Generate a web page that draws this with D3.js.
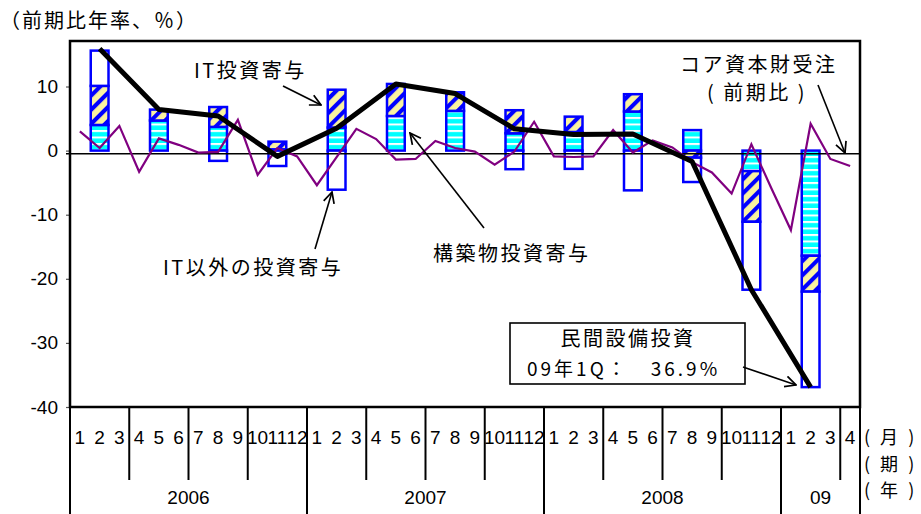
<!DOCTYPE html>
<html><head><meta charset="utf-8">
<script src="https://cdn.jsdelivr.net/npm/d3@7"></script>
<style>body{margin:0;background:#fff} svg{display:block}</style>
</head><body><svg id="c" width="921" height="514"></svg>
<script>
// ---- data ----
const quarters = ["2006Q1","2006Q2","2006Q3","2006Q4","2007Q1","2007Q2","2007Q3","2007Q4","2008Q1","2008Q2","2008Q3","2008Q4","2009Q1"];
const structures = [4.0, 4.7, 3.7, 0.2, 3.6, 5.4, 6.2, 2.7, 2.9, 6.1, 3.2, -3.2, -16.4];   // 構築物投資寄与
const itInvest   = [6.1, 1.7, 3.1, 1.2, 5.9, 5.0, 2.9, 3.6, 2.4, 2.7, -1.1, -7.9, -5.6];   // IT投資寄与
const nonIT      = [5.5, 0.0, -1.6, -2.4, -6.1, 0.0, 0.0, -2.9, -2.85, -6.2, -3.8, -10.6, -14.9]; // IT以外の投資寄与
const capex      = [15.9, 6.4, 5.4, -0.9, 3.5, 10.4, 8.9, 3.4, 2.5, 2.6, -1.7, -21.7, -36.9]; // 民間設備投資
const orders = [3.0, 0.4, 3.85, -3.3, 1.9, 0.9, -0.3, -0.2, 4.8, -3.8,
                0.4, -0.9, -5.4, -1.0, 3.4, 1.8, -1.4, -1.3, 1.5, 0.4,
                -0.15, -2.2, -0.15, 4.5, -0.9, -1.0, -0.9, 3.2, -0.3, 1.6,
                0.5, -1.8, -3.4, -6.7, 1.0, -5.8, -12.4, 4.2, -1.3, -2.4]; // コア資本財受注（前期比）
const monthLabels = ["1","2","3","4","5","6","7","8","9","10","11","12",
                     "1","2","3","4","5","6","7","8","9","10","11","12",
                     "1","2","3","4","5","6","7","8","9","10","11","12",
                     "1","2","3","4"];
const years = ["2006","2007","2008","09"];
const yearMonths = [12, 12, 12, 4];
const yTicks = [10, 0, -10, -20, -30, -40];
const refLine = [-0.5];

// ---- layout ----
const L = 70, R = 860, T = 41, B = 407;
const JP = "'Noto Sans CJK JP', sans-serif";
const NUM = "'Liberation Sans', Arial, sans-serif";
const svg = d3.select("#c");
const x = d3.scaleBand().domain(d3.range(orders.length)).range([L, R]);
const bw = x.bandwidth();
const y = d3.scaleLinear().domain([-40, 17.1]).range([B, T]);
const qx = i => x(i * 3) + 1.5 * bw;

// ---- patterns ----
const defs = svg.append("defs");
const pc = defs.append("pattern").attr("id", "cyan").attr("patternUnits", "userSpaceOnUse")
  .attr("width", 6.5).attr("height", 6.5);
pc.append("rect").attr("width", 6.5).attr("height", 6.5).attr("fill", "#00FFFF");
pc.append("rect").attr("width", 6.5).attr("height", 2).attr("fill", "#FFFFFF");
const ph = defs.append("pattern").attr("id", "hatch").attr("patternUnits", "userSpaceOnUse")
  .attr("width", 10).attr("height", 10).attr("patternTransform", "rotate(45)");
ph.append("rect").attr("width", 10).attr("height", 10).attr("fill", "#FAF3A0");
ph.append("line").attr("x1", 2).attr("y1", -1).attr("x2", 2).attr("y2", 11)
  .attr("stroke", "#0000FF").attr("stroke-width", 4.2);
const mk = defs.append("marker").attr("id", "arr").attr("viewBox", "0 0 12 12")
  .attr("refX", 11).attr("refY", 6).attr("markerWidth", 13).attr("markerHeight", 13)
  .attr("markerUnits", "userSpaceOnUse").attr("orient", "auto");
mk.append("path").attr("d", "M1,1 L11,6 L1,11").attr("fill", "none").attr("stroke", "#000").attr("stroke-width", 1.6);

// ---- stacked bars ----
const rows = quarters.map((q, i) => ({q, i, s: structures[i], it: itInvest[i], n: nonIT[i]}));
const keys = ["s", "it", "n"];
const fills = {s: "url(#cyan)", it: "url(#hatch)", n: "#FFFFFF"};
const stack = d3.stack().keys(keys).offset(d3.stackOffsetDiverging)(rows);
stack.forEach(layer => {
  svg.append("g").selectAll("rect").data(layer.filter(d => d[1] !== d[0])).join("rect")
    .attr("x", d => qx(d.data.i) - (bw - 2) / 2)
    .attr("width", bw - 2)
    .attr("y", d => y(Math.max(d[0], d[1])))
    .attr("height", d => Math.abs(y(d[0]) - y(d[1])))
    .attr("fill", fills[layer.key])
    .attr("stroke", "#0000FF").attr("stroke-width", 2.5);
});

// ---- reference line ----
svg.selectAll(".ref").data(refLine).join("line")
  .attr("x1", L - 4).attr("x2", R).attr("y1", d => y(d)).attr("y2", d => y(d))
  .attr("stroke", "#000").attr("stroke-width", 1.4);

// ---- lines ----
svg.append("path").datum(orders)
  .attr("d", d3.line().x((d, i) => x(i) + bw / 2).y(d => y(d)))
  .attr("fill", "none").attr("stroke", "#800080").attr("stroke-width", 2.2).attr("stroke-linejoin", "miter");
svg.append("path").datum(capex)
  .attr("d", d3.line().x((d, i) => qx(i)).y(d => y(d)))
  .attr("fill", "none").attr("stroke", "#000").attr("stroke-width", 5).attr("stroke-linejoin", "round");

// ---- y axis ----
const yAxis = svg.append("g").attr("transform", `translate(${L},0)`)
  .call(d3.axisLeft(y).tickValues(yTicks).tickSize(4).tickFormat(d => String(d)));
yAxis.select(".domain").remove();
yAxis.selectAll(".tick line").attr("stroke", "#555").attr("stroke-width", 1.2);
yAxis.selectAll(".tick text").attr("x", -12).attr("font-family", NUM).attr("font-size", 19).attr("fill", "#000");

// ---- frame ----
svg.append("rect").attr("x", L).attr("y", T).attr("width", R - L).attr("height", B - T)
  .attr("fill", "none").attr("stroke", "#000").attr("stroke-width", 2.5);

// ---- x axis rows ----
const gx = svg.append("g");
gx.selectAll(".ml").data(monthLabels).join("text")
  .attr("x", (d, i) => x(i) + bw / 2).attr("y", 444).attr("text-anchor", "middle")
  .attr("font-family", NUM).attr("font-size", 19).text(d => d);
// quarter separators
const qSep = d3.range(1, orders.length / 3 + 1).map(k => k * 3).filter(m => m < orders.length && m % 12 !== 0);
gx.selectAll(".qs").data(qSep).join("line")
  .attr("x1", m => x(m)).attr("x2", m => x(m)).attr("y1", B).attr("y2", 480)
  .attr("stroke", "#000").attr("stroke-width", 2);
// year separators
const yStarts = yearMonths.map((n, i) => d3.sum(yearMonths.slice(0, i)));
const ySep = yStarts.concat([orders.length]);
gx.selectAll(".ys").data(ySep).join("line")
  .attr("x1", m => m >= orders.length ? R : x(m)).attr("x2", m => m >= orders.length ? R : x(m))
  .attr("y1", B).attr("y2", 514)
  .attr("stroke", "#000").attr("stroke-width", 2);
gx.selectAll(".yl").data(years).join("text")
  .attr("x", (d, i) => {
    const a = x(yStarts[i]);
    const e = yStarts[i] + yearMonths[i] >= orders.length ? R : x(yStarts[i] + yearMonths[i]);
    return (a + e) / 2;
  })
  .attr("y", 504).attr("text-anchor", "middle")
  .attr("font-family", NUM).attr("font-size", 19).text(d => d);
// unit labels
[["( 月 )", 444], ["( 期 )", 470.5], ["( 年 )", 497]].forEach(([t, yy]) => {
  svg.append("text").attr("x", 864).attr("y", yy).attr("font-family", JP).attr("font-size", 18)
    .attr("letter-spacing", 3).style("white-space", "pre").text(t);
});

// ---- title ----
svg.append("text").attr("x", 0).attr("y", 28).attr("font-family", JP).attr("font-size", 20)
  .attr("letter-spacing", 2).text("（前期比年率、％）");

// ---- annotations ----
function label(t, xx, yy) {
  svg.append("text").attr("x", xx).attr("y", yy).attr("font-family", JP).attr("font-size", 20)
    .attr("letter-spacing", 2.5).style("white-space", "pre").text(t);
}
function arrow(x1, y1, x2, y2) {
  svg.append("line").attr("x1", x1).attr("y1", y1).attr("x2", x2).attr("y2", y2)
    .attr("stroke", "#000").attr("stroke-width", 1.6).attr("marker-end", "url(#arr)");
}
label("IT投資寄与", 194, 78);
arrow(283, 86, 321, 105);
label("構築物投資寄与", 433, 261);
arrow(484, 228, 410, 133);
label("IT以外の投資寄与", 163, 275);
arrow(315, 249, 332, 192);
label("コア資本財受注", 680, 72);
label("( 前期比 )", 707, 100);
arrow(818, 85, 845, 153);

svg.append("rect").attr("x", 510).attr("y", 323).attr("width", 235).attr("height", 61)
  .attr("fill", "#fff").attr("stroke", "#000").attr("stroke-width", 1.6);
svg.append("text").attr("x", 628).attr("y", 346).attr("text-anchor", "middle").attr("font-family", JP)
  .attr("font-size", 20).attr("letter-spacing", 2.5).text("民間設備投資");
svg.append("text").attr("x", 527).attr("y", 376).attr("font-family", JP)
  .attr("font-size", 19).attr("letter-spacing", 3).text("09年1Q：　36.9%");
arrow(743, 367, 796, 385);
</script></body></html>
